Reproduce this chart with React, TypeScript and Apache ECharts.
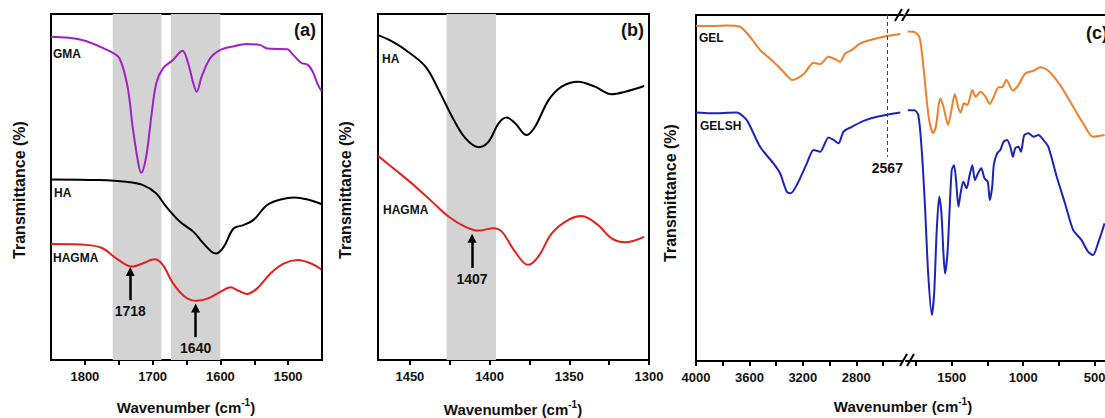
import React, { useEffect, useRef } from 'react';
import * as echarts from 'echarts';

const FONT = '"Liberation Sans", Arial, Helvetica, sans-serif';
const PURPLE = '#A020C8';
const RED = '#E4201C';
const BLACK = '#000000';
const ORANGE = '#F07F2C';
const BLUE = '#1C24B8';
const BAND = '#D3D3D3';

// ---------- Panel (a) ----------
const aXLabels = [1500, 1600, 1700, 1800];
const aXTicks = [1500, 1550, 1600, 1650, 1700, 1750, 1800];
const aBands: [number, number][] = [[1759, 1687], [1673, 1600]];
const aGMA: [number, number][] = [
  [1850, 93.4], [1804, 92.5], [1762, 89.1], [1749, 87.2], [1737, 79], [1729.5, 67.4], [1722, 57.8],
  [1717, 54.1], [1709.5, 58.8], [1702, 70.3], [1694.6, 80], [1684.7, 84.3], [1670, 86.7], [1656, 89.4],
  [1647.5, 85.7], [1640, 80], [1635, 77.5], [1627.6, 81.9], [1615, 87.2], [1600, 89.6], [1580, 90.7],
  [1560.5, 91.3], [1540.7, 91], [1530.7, 90], [1501, 89.8], [1493.5, 88.4], [1481, 85.9], [1471, 85.3],
  [1463.6, 83.3], [1456, 79.5], [1450.8, 77.8],
];
const aHA: [number, number][] = [
  [1850, 52.2], [1779, 52], [1739, 51.5], [1715, 50.6], [1695, 48.2], [1680, 44.3], [1660, 40],
  [1640, 37.1], [1625, 33.7], [1613, 31.3], [1606, 30.8], [1595, 32.7], [1580.5, 38], [1566, 39],
  [1551, 40.5], [1531, 44.8], [1511, 46.4], [1491, 47], [1471, 46.4], [1451, 45.1],
];
const aHAGMA: [number, number][] = [
  [1850, 33.5], [1794, 33.2], [1774, 32.3], [1754, 29.4], [1739, 27.5], [1730, 27], [1715, 27.9],
  [1697, 29.1], [1685, 27.5], [1670, 22.2], [1652.5, 18.3], [1635, 17.1], [1618, 17.8], [1600, 19.7],
  [1585, 21], [1573, 20], [1560.5, 19.1], [1545.6, 20.7], [1526, 25], [1506, 27.9], [1486, 28.9],
  [1466, 27.9], [1451, 26.2],
];
// arrows: [wavenumber, yFrom, yTo, label]
const aArrows: [number, number, number, string][] = [
  [1733, 17.3, 25.6, '1718'],
  [1636.5, 6.6, 15, '1640'],
];

// ---------- Panel (b) ----------
const bXLabels = [1300, 1350, 1400, 1450];
const bXTicks = [1300, 1325, 1350, 1375, 1400, 1425, 1450];
const bBands: [number, number][] = [[1427, 1396]];
const bHA: [number, number][] = [
  [1470, 93.9], [1463, 92.5], [1452.7, 89.6], [1440.2, 84.8], [1431.9, 78], [1423.5, 70.3],
  [1415.2, 64.1], [1406.9, 61.5], [1400.6, 63.1], [1394.4, 68.4], [1389.2, 70.1], [1384, 68.4],
  [1376.7, 65], [1371.5, 67.4], [1363, 75.1], [1354.8, 79], [1344.4, 80.4], [1334, 79],
  [1323.6, 76.8], [1315.2, 77.5], [1303, 79.2],
];
const bHAGMA: [number, number][] = [
  [1470, 59], [1459, 54.9], [1446.4, 50.1], [1436, 45.7], [1425.6, 41.4], [1415.2, 38.5],
  [1406.9, 37.4], [1397.5, 38.1], [1392.3, 37.1], [1384, 31.3], [1376, 27.5], [1369.4, 29.9],
  [1361, 36.6], [1350.6, 40.5], [1342.3, 41.6], [1332, 39], [1323.6, 35.2], [1315.2, 34], [1303, 35.6],
];
const bArrows: [number, number, number, string][] = [[1411, 26.6, 35.2, '1407']];

// ---------- Panel (c) ----------
const c1XLabels = [2800, 3200, 3600, 4000];
const c1XTicks = [2600, 2800, 3000, 3200, 3400, 3600, 3800, 4000];
const c2XLabels = [500, 1000, 1500];
const c2XTicks = [500, 750, 1000, 1250, 1500, 1750];
const cDashed = 2567;
const c1GEL: [number, number][] = [
  [4000, 96.9], [3895, 96.8], [3770, 97], [3670, 96.6], [3595, 93.7], [3520, 89.9], [3420, 86.5],
  [3345, 83.6], [3278, 81.2], [3195, 82.9], [3120, 86.2], [3070, 85.8], [3008, 87.9], [2958, 87.2],
  [2920, 86.5], [2883, 88.9], [2832, 89.9], [2770, 91.8], [2695, 92.8], [2570, 93.9], [2470, 94.5],
];
const c2GEL: [number, number][] = [
  [1808, 95.2], [1762, 95.1], [1727, 93.7], [1703, 87], [1680, 77.4], [1658, 69.6], [1630, 65.8],
  [1611, 67.7], [1581, 75.9], [1558, 73.5], [1526, 68.2], [1502, 72.5], [1479, 77.2], [1456, 73.5],
  [1438, 71.8], [1415, 74.5], [1391, 74], [1356, 78.3], [1333, 76.4], [1299, 77.8], [1264, 76.4],
  [1234, 74.3], [1206, 76.4], [1172, 79.1], [1148, 79.1], [1118, 81.2], [1072, 78.1], [1033, 79.8],
  [986, 83.1], [928, 83.9], [882, 84.9], [824, 83.9], [743, 79.8], [651, 73.5], [581, 68.7],
  [512, 64.8], [431, 65.3],
];
const c1GELSH: [number, number][] = [
  [4000, 71.8], [3895, 71.6], [3695, 71.8], [3620, 69.6], [3520, 61.9], [3420, 57.1], [3370, 54.2],
  [3320, 48.9], [3290, 48.5], [3245, 50.9], [3170, 57.1], [3120, 61], [3070, 60.5], [3008, 64.6],
  [2970, 63.9], [2933, 62.9], [2895, 66.3], [2832, 67.7], [2745, 69.4], [2645, 70.6], [2470, 71.8],
];
const c2GELSH: [number, number][] = [
  [1808, 72.5], [1762, 72.5], [1734, 71.1], [1710, 61], [1687, 44.6], [1665, 25.3], [1639, 13.3],
  [1623, 19.6], [1606, 36.9], [1588, 47.5], [1572, 42.7], [1558, 31.1], [1547, 25.3], [1530, 31.1],
  [1514, 44.6], [1500, 55.2], [1484, 56.6], [1470, 52.3], [1453, 44.6], [1438, 48.5], [1419, 51.8],
  [1396, 49.9], [1377, 53.3], [1356, 56.6], [1338, 52.3], [1317, 54.2], [1294, 55.7], [1271, 52.8],
  [1248, 51.8], [1234, 46.5], [1217, 50.4], [1206, 56.6], [1183, 60], [1160, 61], [1137, 63.4],
  [1113, 63.9], [1090, 61.9], [1072, 59], [1056, 61.5], [1033, 61.9], [1016, 60.5], [993, 65.3],
  [963, 65.8], [928, 64.8], [894, 65.3], [859, 63.9], [824, 61.9], [766, 53.3], [708, 45.6],
  [651, 37.9], [593, 35], [547, 31.6], [512, 30.6], [477, 34], [431, 39.8],
];

function xAxis(gridIndex: number, min: number, max: number, labels: number[], ticks: number[]) {
  return {
    type: 'value', gridIndex, min, max, inverse: true,
    axisLine: { show: true, onZero: false, lineStyle: { color: '#000', width: 2 } },
    axisTick: { show: true, customValues: ticks, length: 5, lineStyle: { color: '#000', width: 2 } },
    axisLabel: {
      customValues: labels, margin: 10, fontSize: 13, fontWeight: 'bold', color: '#111', fontFamily: FONT,
      formatter: (v: number) => String(v), hideOverlap: false,
    },
    splitLine: { show: false },
  };
}
function topAxis(gridIndex: number, min: number, max: number) {
  return {
    type: 'value', gridIndex, min, max, inverse: true, position: 'top',
    axisLine: { show: true, onZero: false, lineStyle: { color: '#000', width: 2 } },
    axisTick: { show: false }, axisLabel: { show: false }, splitLine: { show: false },
  };
}
function yAxis(gridIndex: number, line: boolean, position: string) {
  return {
    type: 'value', gridIndex, min: 0, max: 100, position,
    axisLine: { show: line, onZero: false, lineStyle: { color: '#000', width: 2 } },
    axisTick: { show: false }, axisLabel: { show: false }, splitLine: { show: false },
  };
}
function curve(xi: number, yi: number, data: [number, number][], color: string, extra: any = {}) {
  return {
    type: 'line', xAxisIndex: xi, yAxisIndex: yi, data, showSymbol: false, symbol: 'none',
    smooth: 0.35, lineStyle: { color, width: 2 }, z: 3, silent: true, ...extra,
  };
}
function bands(xi: number, yi: number, list: [number, number][]) {
  return {
    type: 'line', xAxisIndex: xi, yAxisIndex: yi, data: [], z: 1, silent: true,
    markArea: { silent: true, itemStyle: { color: BAND }, data: list.map(([a, b]) => [{ xAxis: a }, { xAxis: b }]) },
  };
}
function arrows(list: [number, number, number, string][]) {
  return {
    silent: true, symbol: ['none', 'triangle'], symbolSize: 9, precision: 1,
    lineStyle: { color: '#000', width: 2.5, type: 'solid' },
    label: { show: true, position: 'start', formatter: '{b}', fontSize: 14, fontWeight: 'bold', color: '#111', fontFamily: FONT, distance: 4 },
    data: list.map(([x, y0, y1, name]) => [{ coord: [x, y0], name }, { coord: [x, y1] }]),
  };
}
function txt(x: number, y: number, text: string, size: number, align = 'left', extra: any = {}) {
  return {
    type: 'text', x, y, z: 10, silent: true,
    style: { text, fontSize: size, fontWeight: 'bold', fontFamily: FONT, fill: '#111', align, verticalAlign: 'middle', ...extra },
  };
}
function yTitle(x: number, y: number) {
  return {
    type: 'text', x, y, rotation: Math.PI / 2, z: 10, silent: true,
    style: { text: 'Transmittance (%)', fontSize: 16, fontWeight: 'bold', fontFamily: FONT, fill: '#111', align: 'center', verticalAlign: 'middle' },
  };
}
function xTitle(x: number, y: number) {
  const base = { fontWeight: 'bold', fontFamily: FONT, fill: '#111' };
  return {
    type: 'text', x, y, z: 10, silent: true,
    style: {
      text: '{a|Wavenumber (cm}{s|-1}{a|)}', align: 'center', verticalAlign: 'middle',
      rich: {
        a: { ...base, fontSize: 15, lineHeight: 18, verticalAlign: 'bottom' },
        s: { ...base, fontSize: 10, lineHeight: 18, verticalAlign: 'top' },
      },
    },
  };
}
function slash(x1: number, y1: number, x2: number, y2: number) {
  return { type: 'line', z: 10, silent: true, shape: { x1, y1, x2, y2 }, style: { stroke: '#000', lineWidth: 2 } };
}

const gridBase = { outerBoundsMode: 'none', containLabel: false };

const option: any = {
  animation: false,
  backgroundColor: '#fff',
  grid: [
    { ...gridBase, left: 51, top: 14, width: 271, height: 346, show: true, borderColor: '#000', borderWidth: 2, backgroundColor: 'transparent' },
    { ...gridBase, left: 378, top: 14, width: 271, height: 346, show: true, borderColor: '#000', borderWidth: 2, backgroundColor: 'transparent' },
    { ...gridBase, left: 696, top: 15, width: 207, height: 346 },
    { ...gridBase, left: 906, top: 15, width: 203, height: 346 },
  ],
  xAxis: [
    xAxis(0, 1450, 1850, aXLabels, aXTicks),
    xAxis(1, 1300, 1470, bXLabels, bXTicks),
    xAxis(2, 2450, 4000, c1XLabels, c1XTicks),
    topAxis(2, 2450, 4000),
    xAxis(3, 400, 1820, c2XLabels, c2XTicks),
    topAxis(3, 400, 1820),
  ],
  yAxis: [
    yAxis(0, false, 'left'),
    yAxis(1, false, 'left'),
    yAxis(2, true, 'left'),
    yAxis(3, true, 'right'),
  ],
  series: [
    bands(0, 0, aBands),
    curve(0, 0, aGMA, PURPLE),
    curve(0, 0, aHA, BLACK),
    curve(0, 0, aHAGMA, RED, { markLine: arrows(aArrows) }),
    bands(1, 1, bBands),
    curve(1, 1, bHA, BLACK),
    curve(1, 1, bHAGMA, RED, { markLine: arrows(bArrows) }),
    curve(2, 2, c1GEL, ORANGE, {
      smooth: 0.25,
      markLine: {
        silent: true, symbol: ['none', 'none'],
        lineStyle: { color: '#444', width: 1, type: [4, 3] },
        label: { show: true, position: 'end', formatter: String(cDashed), fontSize: 14, fontWeight: 'bold', color: '#111', fontFamily: FONT, distance: 4 },
        data: [[{ coord: [cDashed, 100] }, { coord: [cDashed, 59] }]],
      },
    }),
    curve(2, 2, c1GELSH, BLUE, { smooth: 0.25 }),
    curve(4, 3, c2GEL, ORANGE, { smooth: 0.25 }),
    curve(4, 3, c2GELSH, BLUE, { smooth: 0.25 }),
  ],
  graphic: [
    txt(53, 54, 'GMA', 12), txt(54, 193, 'HA', 12), txt(53, 258, 'HAGMA', 12),
    txt(316, 30, '(a)', 18, 'right'),
    txt(382, 59, 'HA', 12), txt(383, 210, 'HAGMA', 12),
    txt(644, 30, '(b)', 18, 'right'),
    txt(699, 38, 'GEL', 12), txt(700, 126, 'GELSH', 12),
    txt(1086, 33, '(c)', 18, 'left'),
    yTitle(19, 190), yTitle(345, 190), yTitle(670, 193),
    xTitle(186, 406), xTitle(513, 408), xTitle(903, 405),
    slash(895, 21, 902, 9), slash(902, 21, 909, 9),
    slash(900, 366, 907, 354), slash(907, 366, 914, 354),
  ],
};

export default function App() {
  const ref = useRef<HTMLDivElement>(null);
  useEffect(() => {
    const chart = echarts.init(ref.current as HTMLDivElement, null, { renderer: 'svg' });
    chart.setOption(option);
    return () => chart.dispose();
  }, []);
  return (
    <div
      ref={ref}
      style={{ position: 'fixed', left: 0, top: 0, width: 1105, height: 418, background: '#fff', overflow: 'hidden' }}
    />
  );
}
